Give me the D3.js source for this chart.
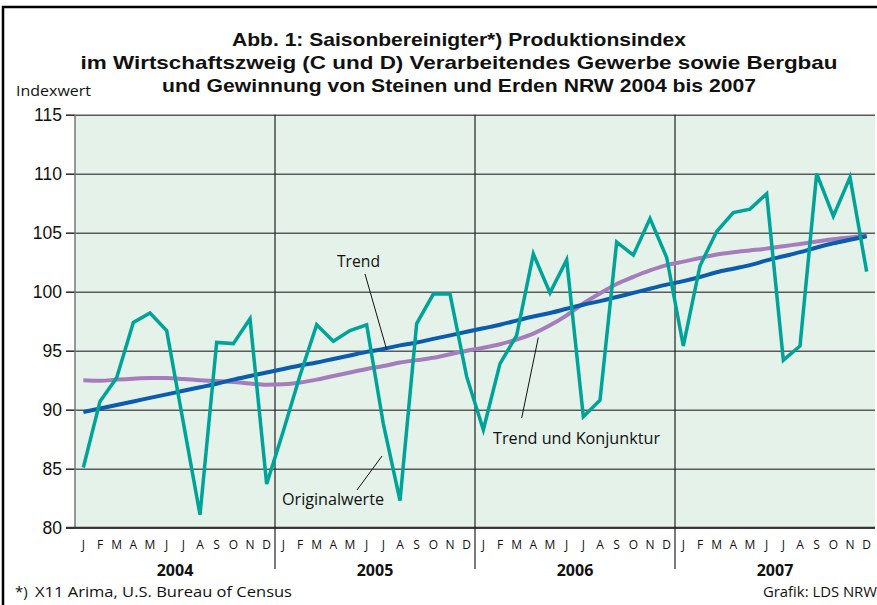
<!DOCTYPE html>
<html><head><meta charset="utf-8">
<script src="https://cdn.jsdelivr.net/npm/d3@7"></script>
<style>
html,body{margin:0;padding:0;background:#fff;}
svg{display:block;font-family:"Open Sans","Noto Sans",sans-serif;}
</style></head>
<body>
<svg id="c" width="877" height="605"></svg>
<script>
const years = ["2004","2005","2006","2007"];
const monthLetters = ["J","F","M","A","M","J","J","A","S","O","N","D"];
const yTicks = [80,85,90,95,100,105,110,115];

const originalwerte = [
  85.1, 90.7, 92.7, 97.4, 98.2, 96.7, 88.9, 81.1, 95.7, 95.6, 97.7, 83.7,
  88.2, 92.9, 97.2, 95.8, 96.7, 97.2, 88.8, 82.3, 97.3, 99.8, 99.8, 92.8,
  88.3, 93.9, 96.3, 103.2, 99.9, 102.7, 89.4, 90.8, 104.2, 103.1, 106.2, 102.9,
  95.4, 102.2, 105.1, 106.7, 107.0, 108.3, 94.2, 95.4, 110.0, 106.4, 109.7, 101.7
];
const trend = [
  89.8, 90.1, 90.4, 90.7, 91.0, 91.3, 91.6, 91.9, 92.2, 92.55, 92.85, 93.15,
  93.45, 93.75, 94.0, 94.3, 94.6, 94.9, 95.15, 95.45, 95.7, 96.0, 96.3, 96.6,
  96.9, 97.2, 97.55, 97.9, 98.2, 98.55, 98.9, 99.2, 99.55, 99.9, 100.25, 100.6,
  100.9, 101.25, 101.65, 101.95, 102.25, 102.65, 103.0, 103.35, 103.75, 104.1, 104.4, 104.7
];
const trendKonjunktur = [
  92.5, 92.45, 92.55, 92.63, 92.68, 92.68, 92.6, 92.5, 92.43, 92.35, 92.22, 92.12,
  92.15, 92.3, 92.55, 92.85, 93.15, 93.45, 93.7, 94.0, 94.2, 94.4, 94.7, 95.0,
  95.25, 95.55, 95.95, 96.45, 97.15, 98.0, 99.0, 99.85, 100.65, 101.25, 101.8, 102.25,
  102.55, 102.85, 103.15, 103.35, 103.5, 103.65, 103.85, 104.05, 104.25, 104.45, 104.6, 104.75
];
const titleLines = [
  "Abb. 1: Saisonbereinigter*) Produktionsindex",
  "im Wirtschaftszweig (C und D) Verarbeitendes Gewerbe sowie Bergbau",
  "und Gewinnung von Steinen und Erden NRW 2004 bis 2007"
];
const titleWidths = [454, 757, 594];

const svg = d3.select("#c");
const L = 75, R = 875, T = 114.7, B = 527.7;
const nMonths = years.length * 12;
const x = d3.scaleLinear().domain([0, nMonths]).range([L, R]);
const xm = i => x(i + 0.5);
const y = d3.scaleLinear().domain([80, 115]).range([B, T]);

// frame
svg.append("rect").attr("x",3).attr("y",7).attr("width",900).attr("height",700)
  .attr("fill","none").attr("stroke","#000").attr("stroke-width",2.5);

// title
svg.append("g").selectAll("text").data(titleLines).join("text")
  .attr("x",459).attr("y",(d,i)=>46+i*23).attr("text-anchor","middle")
  .attr("textLength",(d,i)=>titleWidths[i]).attr("lengthAdjust","spacingAndGlyphs")
  .attr("font-family","'Liberation Sans', Arial, sans-serif")
  .attr("font-weight","bold").attr("font-size",19).attr("fill","#111").text(d=>d);

svg.append("text").attr("x",16).attr("y",96).attr("font-size",15).attr("fill","#111")
  .attr("textLength",75).attr("lengthAdjust","spacingAndGlyphs").text("Indexwert");

// plot background
svg.append("rect").attr("x",L).attr("y",T).attr("width",R-L).attr("height",B-T).attr("fill","#e4f2e9");

// gridlines
const yAxis = d3.axisLeft(y).tickValues(yTicks).tickSize(-(R-L)).tickPadding(13).tickFormat(d3.format("d"));
const ga = svg.append("g").attr("transform",`translate(${L},0)`).call(yAxis);
ga.select(".domain").remove();
ga.selectAll(".tick line").attr("stroke","#5a5a5a").attr("stroke-width",1.6);
ga.selectAll(".tick text").attr("font-size",17.5).attr("fill","#111").attr("font-family",null);
ga.selectAll(".tick").append("line").attr("x1",-9).attr("x2",0).attr("stroke","#333").attr("stroke-width",1.6);

// left axis line
svg.append("line").attr("x1",L).attr("x2",L).attr("y1",T).attr("y2",B).attr("stroke","#777").attr("stroke-width",1.5);
// bottom axis line
svg.append("line").attr("x1",L-9).attr("x2",R).attr("y1",B).attr("y2",B).attr("stroke","#333").attr("stroke-width",2);

// year dividers
svg.append("g").selectAll("line").data(years.slice(1)).join("line")
  .attr("x1",(d,i)=>x((i+1)*12)).attr("x2",(d,i)=>x((i+1)*12))
  .attr("y1",T).attr("y2",569).attr("stroke","#222").attr("stroke-width",1.2);

// month letters
const months = d3.range(nMonths);
svg.append("g").selectAll("text").data(months).join("text")
  .attr("x",i=>xm(i)).attr("y",549).attr("text-anchor","middle").attr("font-size",12)
  .attr("fill","#111").text(i=>monthLetters[i%12]);

// year labels
svg.append("g").selectAll("text").data(years).join("text")
  .attr("x",(d,i)=>x(i*12+6)).attr("y",576).attr("text-anchor","middle")
  .attr("font-size",16).attr("font-weight","bold").attr("fill","#111").text(d=>d);

// lines
const line = d3.line().x((d,i)=>xm(i)).y(d=>y(d));
svg.append("path").datum(trendKonjunktur).attr("d",line.curve(d3.curveMonotoneX))
  .attr("fill","none").attr("stroke","#a67dbc").attr("stroke-width",4);
svg.append("path").datum(trend).attr("d",line.curve(d3.curveMonotoneX))
  .attr("fill","none").attr("stroke","#0b5cae").attr("stroke-width",4);
svg.append("path").datum(originalwerte).attr("d",line.curve(d3.curveLinear))
  .attr("fill","none").attr("stroke","#00a398").attr("stroke-width",3.5).attr("stroke-linejoin","miter");

// annotations
const ann = svg.append("g").attr("font-size",16).attr("fill","#111");
ann.append("text").attr("x",358.5).attr("y",267).attr("text-anchor","middle")
  .attr("textLength",43).attr("lengthAdjust","spacingAndGlyphs").text("Trend");
ann.append("line").attr("x1",365).attr("y1",274).attr("x2",xm(18.2)).attr("y2",y(95.1)).attr("stroke","#111").attr("stroke-width",1);
ann.append("text").attr("x",333).attr("y",505).attr("text-anchor","middle")
  .attr("textLength",102).attr("lengthAdjust","spacingAndGlyphs").text("Originalwerte");
ann.append("line").attr("x1",357).attr("y1",490).attr("x2",382).attr("y2",456).attr("stroke","#111").attr("stroke-width",1);
ann.append("text").attr("x",576.5).attr("y",444).attr("text-anchor","middle")
  .attr("textLength",167).attr("lengthAdjust","spacingAndGlyphs").text("Trend und Konjunktur");
ann.append("line").attr("x1",521.7).attr("y1",418).attr("x2",538.3).attr("y2",337.5).attr("stroke","#111").attr("stroke-width",1);

// footer
const foot = svg.append("text").attr("y",597).attr("font-size",15).attr("fill","#111");
foot.append("tspan").attr("x",15).text("*)");
foot.append("tspan").attr("x",35).attr("textLength",257).attr("lengthAdjust","spacingAndGlyphs").text("X11 Arima, U.S. Bureau of Census");
svg.append("text").attr("x",877).attr("y",597).attr("text-anchor","end").attr("font-size",15).attr("fill","#111")
  .attr("textLength",114).attr("lengthAdjust","spacingAndGlyphs").text("Grafik: LDS NRW");
</script>
</body></html>
